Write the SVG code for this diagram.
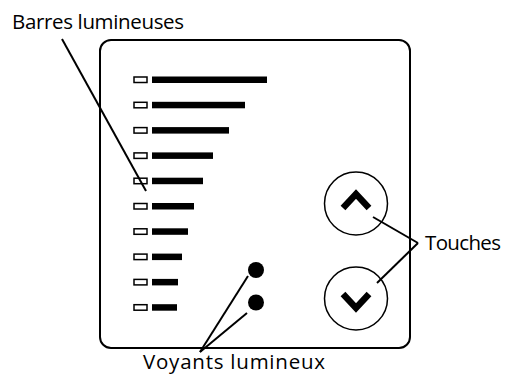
<svg xmlns="http://www.w3.org/2000/svg" width="505" height="374" viewBox="0 0 505 374">
<style>
.t{font-family:"Open Sans","Liberation Sans",sans-serif;font-size:20.5px;fill:#000}
.frame{fill:none;stroke:#000;stroke-width:2}
.led{fill:#fff;stroke:#000;stroke-width:1.5}
.bar{fill:#000}
.ln{stroke:#000;stroke-width:2;fill:none}
.btn{fill:#fff;stroke:#000;stroke-width:1.5}
.chev{fill:none;stroke:#000;stroke-width:6.5;stroke-linejoin:miter}
</style>
<rect width="505" height="374" fill="#fff"/>
<g id="panel">
<rect class="frame" x="100" y="40" width="310" height="308" rx="11"/>
</g>
<g id="barres">
<rect class="led" x="134" y="77" width="13" height="5.5"/><rect class="bar" x="152" y="76.5" width="115" height="6.5"/>
<rect class="led" x="134" y="102.3" width="13" height="5.5"/><rect class="bar" x="152" y="101.8" width="93" height="6.5"/>
<rect class="led" x="134" y="127.6" width="13" height="5.5"/><rect class="bar" x="152" y="127.1" width="77" height="6.5"/>
<rect class="led" x="134" y="152.9" width="13" height="5.5"/><rect class="bar" x="152" y="152.4" width="61" height="6.5"/>
<rect class="led" x="134" y="178.2" width="13" height="5.5"/><rect class="bar" x="152" y="177.7" width="51" height="6.5"/>
<rect class="led" x="134" y="203.5" width="13" height="5.5"/><rect class="bar" x="152" y="203" width="42" height="6.5"/>
<rect class="led" x="134" y="228.8" width="13" height="5.5"/><rect class="bar" x="152" y="228.3" width="36" height="6.5"/>
<rect class="led" x="134" y="254.1" width="13" height="5.5"/><rect class="bar" x="152" y="253.6" width="30" height="6.5"/>
<rect class="led" x="134" y="279.4" width="13" height="5.5"/><rect class="bar" x="152" y="278.9" width="26" height="6.5"/>
<rect class="led" x="134" y="304.7" width="13" height="5.5"/><rect class="bar" x="152" y="304.2" width="25" height="6.5"/>
</g>
<g id="voyants">
<circle cx="256" cy="270" r="8"/>
<circle cx="256" cy="302.5" r="8"/>
</g>
<g id="touche-haut">
<circle class="btn" cx="356" cy="203.5" r="31.5"/>
<polyline class="chev" points="343,208 356,194 369,208"/>
</g>
<g id="touche-bas">
<circle class="btn" cx="356" cy="298.5" r="31.5"/>
<polyline class="chev" points="343,294 356,308 369,294"/>
</g>
<g id="connecteurs">
<line class="ln" x1="62" y1="39" x2="146" y2="191"/>
<line class="ln" x1="200" y1="352" x2="248" y2="276"/>
<line class="ln" x1="200" y1="352" x2="247" y2="313"/>
<line class="ln" x1="373" y1="217" x2="418" y2="243"/>
<line class="ln" x1="377" y1="283" x2="418" y2="243"/>
</g>
<g id="labels">
<text class="t" x="12" y="29" textLength="172" lengthAdjust="spacing">Barres lumineuses</text>
<text class="t" x="143" y="368.5" textLength="182" lengthAdjust="spacing">Voyants lumineux</text>
<text class="t" x="425" y="250" textLength="76" lengthAdjust="spacing">Touches</text>
</g>
</svg>
